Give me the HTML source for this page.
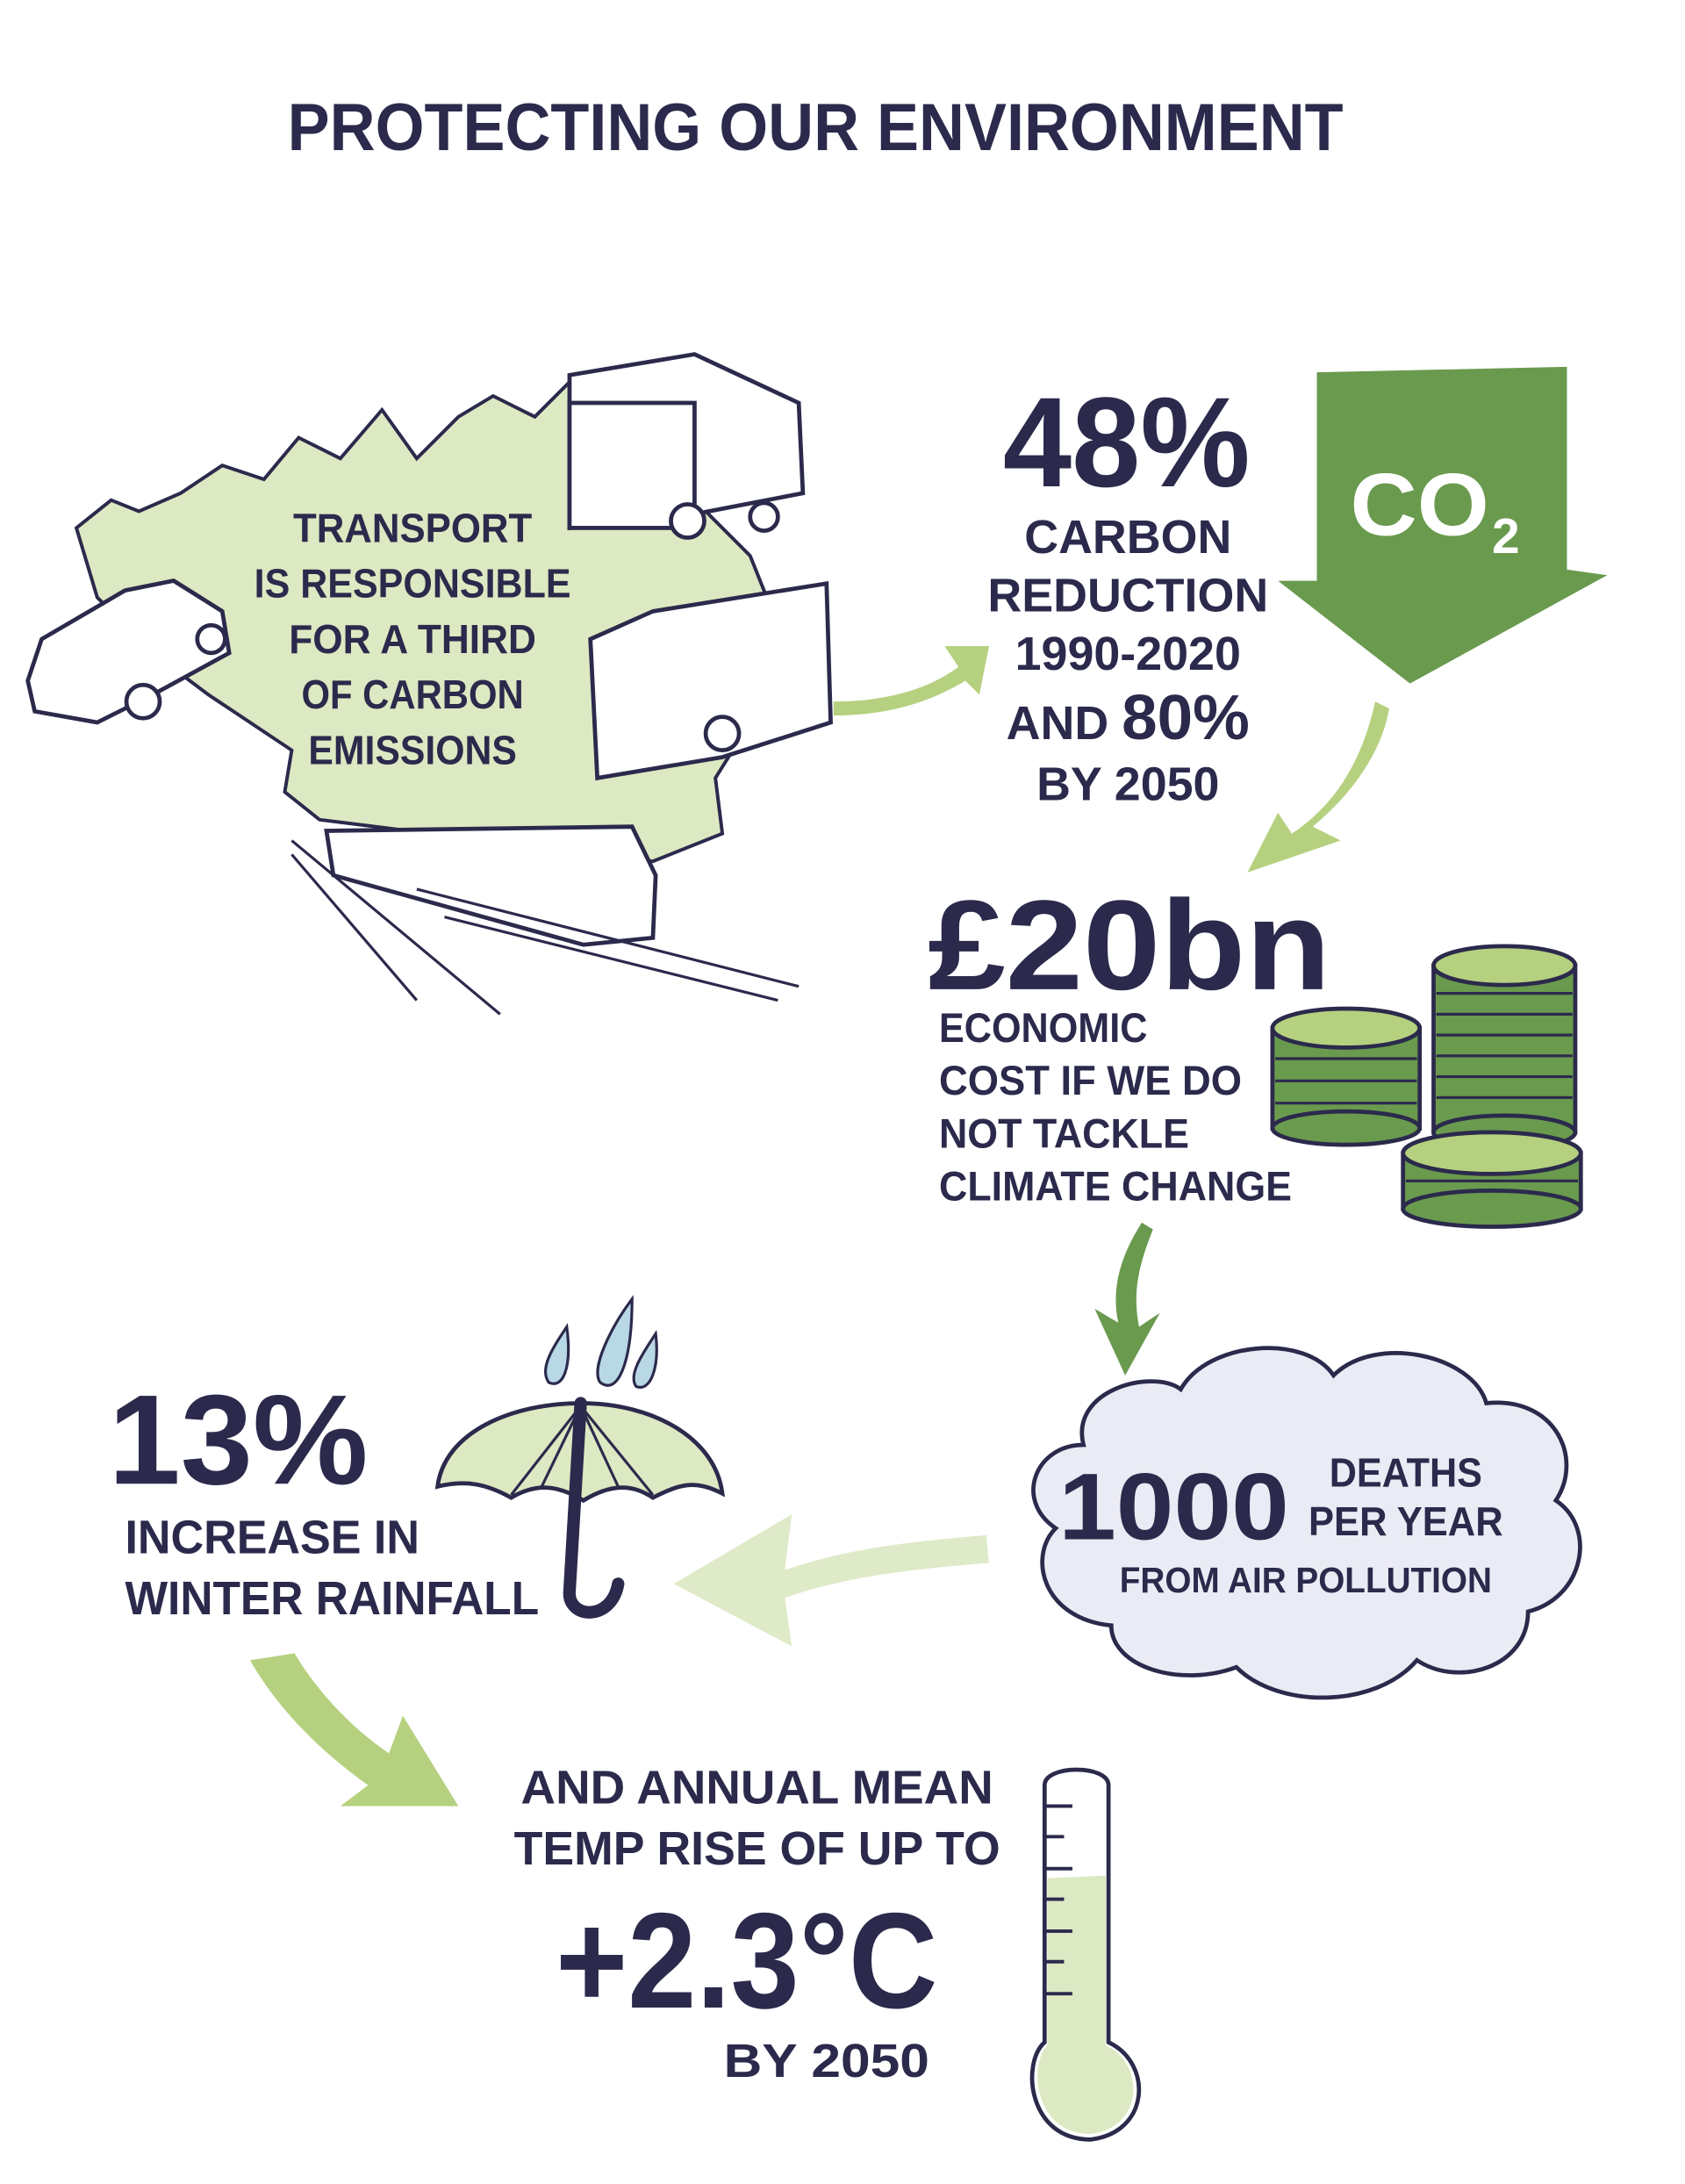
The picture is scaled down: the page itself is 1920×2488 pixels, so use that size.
<!DOCTYPE html>
<html><head><meta charset="utf-8"><style>
html,body{margin:0;padding:0;background:#fff}
svg{display:block}
text{font-family:"Liberation Sans",sans-serif;font-weight:bold;fill:#2b2a4c}
</style></head><body>
<svg width="1920" height="2488" viewBox="0 0 1213 1572" preserveAspectRatio="none" xmlns="http://www.w3.org/2000/svg">
<rect width="1213" height="1572" fill="#fff"/>
<text x="587" y="108" font-size="48" text-anchor="middle" textLength="760" lengthAdjust="spacingAndGlyphs">PROTECTING OUR ENVIRONMENT</text>

<path d="M55,380 L80,360 L100,368 L130,355 L160,335 L190,345 L215,315 L245,330 L275,295 L300,330 L330,300 L355,285 L385,300 L410,275 L470,330 L540,400 L560,450 L540,520 L515,560 L520,600 L470,620 L230,590 L205,570 L210,540 L150,500 L110,470 L70,430 Z" fill="#dce9c2" stroke="#2b2a4c" stroke-width="2.5"/>
<g font-size="29" text-anchor="middle">
<text x="297" y="390" textLength="172" lengthAdjust="spacingAndGlyphs">TRANSPORT</text>
<text x="297" y="430" textLength="228" lengthAdjust="spacingAndGlyphs">IS RESPONSIBLE</text>
<text x="297" y="470" textLength="178" lengthAdjust="spacingAndGlyphs">FOR A THIRD</text>
<text x="297" y="510" textLength="160" lengthAdjust="spacingAndGlyphs">OF CARBON</text>
<text x="297" y="550" textLength="150" lengthAdjust="spacingAndGlyphs">EMISSIONS</text>
</g>
<g fill="#fff" stroke="#2b2a4c" stroke-width="3">
<path d="M20,490 L30,460 L90,425 L125,418 L160,440 L165,470 L110,500 L70,520 L25,512 Z"/>
<circle cx="103" cy="505" r="12"/><circle cx="152" cy="460" r="10"/>
<path d="M410,270 L500,255 L575,290 L578,355 L500,370 L410,380 Z"/>
<rect x="410" y="290" width="90" height="90"/>
<circle cx="495" cy="375" r="12"/><circle cx="550" cy="372" r="10"/>
<path d="M425,460 L470,440 L595,420 L598,520 L520,545 L430,560 Z"/>
<circle cx="520" cy="528" r="12"/>
<path d="M235,598 L455,595 L472,630 L470,675 L420,680 L240,630 Z"/>
</g>
<g stroke="#2b2a4c" stroke-width="2" fill="none">
<path d="M210,605 L360,730"/><path d="M210,615 L300,720"/>
<path d="M300,640 L575,710"/><path d="M320,660 L560,720"/>
</g>

<path d="M600,505 C640,505 670,495 690,480 L680,465 L712,465 L705,500 L695,490 C670,505 640,515 600,515 Z" fill="#b5d17f"/>

<text x="722" y="350" font-size="92" textLength="178" lengthAdjust="spacingAndGlyphs">48%</text>
<g font-size="34" text-anchor="middle">
<text x="812" y="398">CARBON</text>
<text x="812" y="440">REDUCTION</text>
<text x="812" y="482">1990-2020</text>
<text x="812" y="532">AND <tspan font-size="46">80%</tspan></text>
<text x="812" y="576">BY 2050</text>
</g>
<polygon points="948,268 1128,264 1128,410 1157,414 1015,492 920,418 948,418" fill="#6a9a4e"/>
<text x="972" y="385" font-size="64" style="fill:#fff" textLength="100" lengthAdjust="spacingAndGlyphs">CO</text>
<text x="1074" y="398" font-size="36" style="fill:#fff">2</text>

<path d="M990,505 C980,550 960,580 930,600 L920,585 L898,628 L965,605 L945,595 C975,570 995,540 1000,510 Z" fill="#b5d17f"/>

<text x="668" y="712" font-size="92" textLength="290" lengthAdjust="spacingAndGlyphs">£20bn</text>
<g font-size="30">
<text x="676" y="750" textLength="150" lengthAdjust="spacingAndGlyphs">ECONOMIC</text>
<text x="676" y="788" textLength="218" lengthAdjust="spacingAndGlyphs">COST IF WE DO</text>
<text x="676" y="826" textLength="180" lengthAdjust="spacingAndGlyphs">NOT TACKLE</text>
<text x="676" y="864" textLength="254" lengthAdjust="spacingAndGlyphs">CLIMATE CHANGE</text>
</g>
<g stroke="#2b2a4c" stroke-width="3">
<rect x="916" y="740" width="106" height="72" fill="#6a9a4e"/>
<ellipse cx="969" cy="812" rx="53" ry="12" fill="#6a9a4e"/>
<ellipse cx="969" cy="740" rx="53" ry="14" fill="#b5d17f"/>
<rect x="1032" y="695" width="102" height="120" fill="#6a9a4e"/>
<ellipse cx="1083" cy="815" rx="51" ry="12" fill="#6a9a4e"/>
<ellipse cx="1083" cy="695" rx="51" ry="14" fill="#b5d17f"/>
<rect x="1010" y="830" width="128" height="40" fill="#6a9a4e"/>
<ellipse cx="1074" cy="870" rx="64" ry="13" fill="#6a9a4e"/>
<ellipse cx="1074" cy="830" rx="64" ry="15" fill="#b5d17f"/>
</g>
<g stroke="#2b2a4c" stroke-width="2" fill="none">
<path d="M918,762 h102 M918,778 h102 M918,794 h102"/>
<path d="M1034,715 h98 M1034,730 h98 M1034,745 h98 M1034,760 h98 M1034,775 h98 M1034,790 h98"/>
<path d="M1012,850 h124"/>
</g>

<path d="M822,880 L830,885 C820,910 815,930 820,955 L835,945 L810,990 L788,942 L805,952 C800,928 806,905 822,880 Z" fill="#6a9a4e"/>

<path d="M780,1040 C770,1000 830,985 850,1000 C870,965 940,960 960,990 C990,960 1060,975 1070,1010 C1120,1005 1140,1050 1120,1080 C1150,1100 1140,1150 1100,1160 C1100,1200 1050,1215 1020,1195 C990,1230 920,1230 890,1200 C850,1215 800,1200 800,1170 C750,1165 740,1120 760,1100 C730,1080 745,1040 780,1040 Z" fill="#ebebf5" stroke="#2b2a4c" stroke-width="3"/>
<text x="762" y="1108" font-size="68" textLength="166" lengthAdjust="spacingAndGlyphs">1000</text>
<text x="1012" y="1070" font-size="29" text-anchor="middle" textLength="110" lengthAdjust="spacingAndGlyphs">DEATHS</text>
<text x="1012" y="1105" font-size="29" text-anchor="middle" textLength="140" lengthAdjust="spacingAndGlyphs">PER YEAR</text>
<text x="940" y="1146" font-size="26" text-anchor="middle" textLength="268" lengthAdjust="spacingAndGlyphs">FROM AIR POLLUTION</text>

<path d="M710,1105 C650,1110 610,1115 565,1130 L570,1090 L485,1140 L570,1185 L565,1150 C610,1135 650,1130 712,1125 Z" fill="#dfeac8"/>

<text x="78" y="1068" font-size="92" textLength="187" lengthAdjust="spacingAndGlyphs">13%</text>
<text x="90" y="1118" font-size="34" textLength="212" lengthAdjust="spacingAndGlyphs">INCREASE IN</text>
<text x="90" y="1162" font-size="34" textLength="298" lengthAdjust="spacingAndGlyphs">WINTER RAINFALL</text>
<g fill="#b9d8e6" stroke="#2b2a4c" stroke-width="2">
<path d="M408,955 C398,970 388,985 395,995 C405,1000 412,985 408,955 Z"/>
<path d="M455,935 C440,955 425,985 432,995 C445,1005 455,980 455,935 Z"/>
<path d="M472,960 C462,975 452,990 458,998 C468,1002 475,985 472,960 Z"/>
</g>
<path d="M315,1070 C320,1030 370,1010 418,1010 C470,1010 515,1035 520,1075 C500,1065 490,1068 470,1078 C455,1068 440,1068 420,1080 C400,1068 385,1068 368,1078 C350,1068 335,1065 315,1070 Z" fill="#dce9c2" stroke="#2b2a4c" stroke-width="3"/>
<path d="M418,1010 L410,1145 C408,1165 440,1168 445,1140" fill="none" stroke="#2b2a4c" stroke-width="9" stroke-linecap="round"/>
<g stroke="#2b2a4c" stroke-width="2" fill="none"><path d="M418,1012 L368,1076 M418,1012 L470,1076 M418,1012 L390,1070 M418,1012 L445,1070"/></g>

<path d="M180,1195 L212,1190 C230,1220 255,1245 280,1262 L290,1235 L330,1300 L245,1300 L265,1285 C230,1260 200,1230 180,1195 Z" fill="#b5d17f"/>

<text x="545" y="1298" font-size="34" text-anchor="middle" textLength="340" lengthAdjust="spacingAndGlyphs">AND ANNUAL MEAN</text>
<text x="545" y="1342" font-size="34" text-anchor="middle" textLength="350" lengthAdjust="spacingAndGlyphs">TEMP RISE OF UP TO</text>
<text x="400" y="1445" font-size="98" textLength="275" lengthAdjust="spacingAndGlyphs">+2.3°C</text>
<text x="595" y="1495" font-size="34" text-anchor="middle" textLength="148" lengthAdjust="spacingAndGlyphs">BY 2050</text>

<path d="M752,1285 C752,1270 798,1270 798,1285 L798,1470 C830,1485 828,1535 785,1540 C740,1540 735,1485 752,1470 Z" fill="#fff" stroke="#2b2a4c" stroke-width="3"/>
<path d="M754,1352 L796,1350 L796,1472 C826,1487 822,1532 785,1536 C745,1536 740,1487 754,1472 Z" fill="#dce9c2"/>
<g stroke="#2b2a4c" stroke-width="2.5"><path d="M752,1300 h20 M752,1322 h14 M752,1345 h20 M752,1367 h14 M752,1390 h20 M752,1412 h14 M752,1435 h20"/></g>
</svg>
</body></html>
